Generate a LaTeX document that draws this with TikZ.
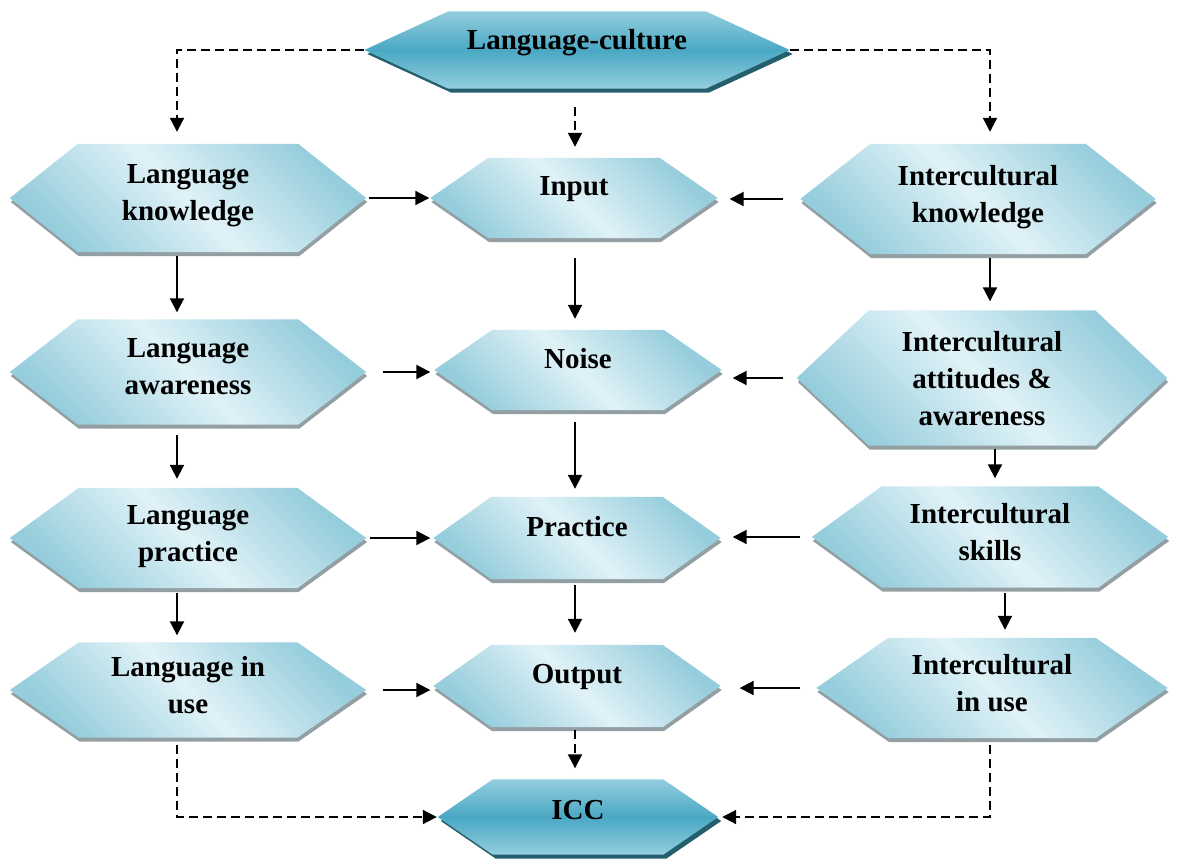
\documentclass[tikz,border=0pt]{standalone}
\usepackage{fontspec}
\setmainfont{Liberation Serif}
\usetikzlibrary{arrows.meta,backgrounds}

\definecolor{hexin}{HTML}{E0F2F7}
\definecolor{hexout}{HTML}{96CDDC}
\definecolor{hexedge}{HTML}{939FA3}
\definecolor{capmid}{HTML}{4AA8C4}
\definecolor{capout}{HTML}{93CEDE}
\definecolor{capedge}{HTML}{255F6D}

% hexagon over a box node: name, inset, dx, dy
\newcommand\hexpath[4]{%
  ([xshift=#3,yshift=#4]#1.west) -- ([xshift=#2+#3,yshift=#4]#1.north west)
  -- ([xshift=-#2+#3,yshift=#4]#1.north east) -- ([xshift=#3,yshift=#4]#1.east)
  -- ([xshift=-#2+#3,yshift=#4]#1.south east) -- ([xshift=#2+#3,yshift=#4]#1.south west) -- cycle}

\tikzset{
  box/.style={inner sep=0pt, align=center, font=\bfseries\fontsize{29}{37}\selectfont},
  lift/.style={text depth=#1pt},
  size/.style 2 args={minimum width=#1pt, minimum height=#2pt},
  lightfill/.style={shading=axis, top color=hexout, bottom color=hexout, middle color=hexin, shading angle=-45},
  capfill/.style={shading=axis, top color=capout, bottom color=capout, middle color=capmid},
  link/.style={line width=2pt, -{Triangle[length=14pt,width=14pt]}},
  dlink/.style={link, dash pattern=on 9pt off 5pt},
  gap/.style 2 args={shorten <=#1pt, shorten >=#2pt}
}

\begin{document}
\begin{tikzpicture}[x=1pt,y=-1pt]
\useasboundingbox (0,0) rectangle (1177,859);

% top and bottom
\node[box,size={425}{77},lift=22] (lc) at (577,50) {Language-culture};
\node[box,size={280}{75},lift=14] (icc) at (578,817) {ICC};

% language column
\node[box,size={356}{108},lift=10] (lknow) at (188,198) {Language\\knowledge};
\node[box,size={356}{105},lift=10] (laware) at (188,372) {Language\\awareness};
\node[box,size={356}{100},lift=10] (lprac) at (188,538) {Language\\practice};
\node[box,size={356}{95},lift=10] (luse) at (188,690) {Language in\\use};

% middle column
\node[box,size={287}{80},lift=24] (input) at (574,198) {Input};
\node[box,size={287}{80},lift=24] (noise) at (578,370) {Noise};
\node[box,size={287}{82},lift=24] (prac) at (577,538) {Practice};
\node[box,size={287}{82},lift=24] (output) at (577,686) {Output};

% intercultural column
\node[box,size={355}{110},lift=10] (iknow) at (978,199) {Intercultural\\knowledge};
\node[box,size={370}{135},lift=0] (iatt) at (982,378) {Intercultural\\attitudes \&\\awareness};
\node[box,size={356}{101},lift=10] (iskill) at (990,537) {Intercultural\\skills};
\node[box,size={351}{100},lift=10] (iuse) at (992,688) {Intercultural\\in use};

% hexagon bodies
\begin{scope}[on background layer]
\foreach \n/\i in {lknow/68,laware/68,lprac/69,luse/69,input/58,noise/58,prac/58,output/58,iknow/70,iatt/72,iskill/70,iuse/72}{
  \fill[hexedge] \hexpath{\n}{\i}{1}{-4};
  \shade[lightfill] \hexpath{\n}{\i}{0}{0};
}
\foreach \n/\i in {lc/84,icc/55}{
  \fill[capedge] \hexpath{\n}{\i}{3}{-4};
  \shade[capfill] \hexpath{\n}{\i}{0}{0};
}
\end{scope}

% arrow columns
\coordinate (lx) at (177,0);
\coordinate (mx) at (575,0);
\coordinate (rxa) at (990,0);
\coordinate (rxb) at (995,0);
\coordinate (rxc) at (1005,0);

% from language-culture
\draw[dlink,gap={0}{12}] (lc.west) -| (lknow.north -| lx);
\draw[dlink,gap={0}{12}] (lc.east) -| (iknow.north -| rxa);
\draw[dlink,gap={18}{11}] (lc.south -| mx) -- (input.north -| mx);

% down the columns
\draw[link,gap={4}{7}] (lknow.south -| lx) -- (laware.north -| lx);
\draw[link,gap={10}{9}] (laware.south -| lx) -- (lprac.north -| lx);
\draw[link,gap={5}{7}] (lprac.south -| lx) -- (luse.north -| lx);
\draw[link,gap={20}{11}] (input.south -| mx) -- (noise.north -| mx);
\draw[link,gap={12}{8}] (noise.south -| mx) -- (prac.north -| mx);
\draw[link,gap={6}{12}] (prac.south -| mx) -- (output.north -| mx);
\draw[link,gap={4}{9}] (iknow.south -| rxa) -- (iatt.north -| rxa);
\draw[link,gap={3}{8}] (iatt.south -| rxb) -- (iskill.north -| rxb);
\draw[link,gap={5}{8}] (iskill.south -| rxc) -- (iuse.north -| rxc);

% into the middle
\draw[link,gap={3}{1}] (lknow.east) -- (lknow.east -| input.west);
\draw[link,gap={17}{4}] (laware.east) -- (laware.east -| noise.west);
\draw[link,gap={4}{3}] (lprac.east) -- (lprac.east -| prac.west);
\draw[link,gap={17}{3}] (luse.east) -- (luse.east -| output.west);
\draw[link,gap={17}{12}] (iknow.west) -- (iknow.west -| input.east);
\draw[link,gap={14}{11}] (iatt.west) -- (iatt.west -| noise.east);
\draw[link,gap={12}{12}] (iskill.west) -- (iskill.west -| prac.east);
\draw[link,gap={16}{19}] (iuse.west) -- (iuse.west -| output.east);

% towards ICC
\draw[dlink,gap={3}{11}] (output.south -| mx) -- (icc.north -| mx);
\draw[dlink,gap={7}{1}] (luse.south -| lx) |- (icc.west);
\draw[dlink,gap={7}{4}] (iuse.south -| rxa) |- (icc.east);
\end{tikzpicture}
\end{document}
